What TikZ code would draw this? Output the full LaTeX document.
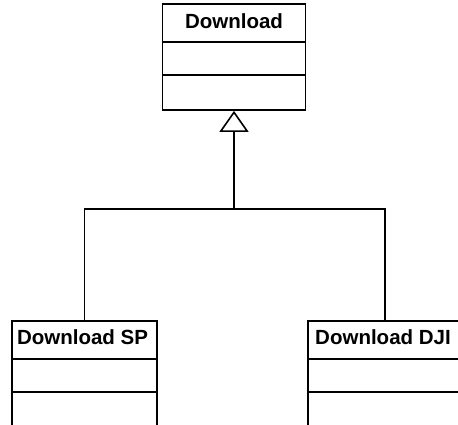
\documentclass[tikz,border=0pt]{standalone}
\usepackage{fontspec}
\setmainfont{Liberation Sans}
\usetikzlibrary{arrows.meta,calc}
\begin{document}
\begin{tikzpicture}[x=1pt,y=1pt,
  cls/.style={draw, line width=1.8pt, inner sep=0pt, minimum width=#1, minimum height=110pt},
  cname/.style={anchor=base, inner sep=0pt, font=\bfseries\fontsize{20.5}{24}\selectfont},
  sep/.style={line width=1.8pt},
  link/.style={line width=1.5pt},
  inh/.style={line width=1.5pt, -{Triangle[open, length=21pt, width=29pt, line width=1.6pt]}}]
\useasboundingbox (0,0) rectangle (458,-425);
\clip (0,0) rectangle (458,-425);
% classes
\node[cls=143pt, minimum height=106pt] (top) at (234,-57) {};
\node[cls=145pt] (sp) at (84.5,-376) {};
\node[cls=154pt] (dji) at (385,-376) {};
% names
\node[cname] (topname) at ($(top.north)+(0,-25)$) {Download};
\node[cname] (spname) at ($(sp.north)+(-2,-24)$) {Download SP};
\node[cname] (djiname) at ($(dji.north)+(-2,-24)$) {Download DJI};
% compartments
\foreach \b in {top,sp,dji}{
  \draw[sep] ($(\b.north west)+(0,-39)$) -- ($(\b.north east)+(0,-39)$);
  \draw[sep] ($(\b.north west)+(0,-72)$) -- ($(\b.north east)+(0,-72)$);
}
% inheritance
\coordinate (j) at (234,-209);
\draw[inh] (j) -- (top.south);
\draw[link] (j) -| (sp.north);
\draw[link] (j) -| (dji.north);
\end{tikzpicture}
\end{document}
